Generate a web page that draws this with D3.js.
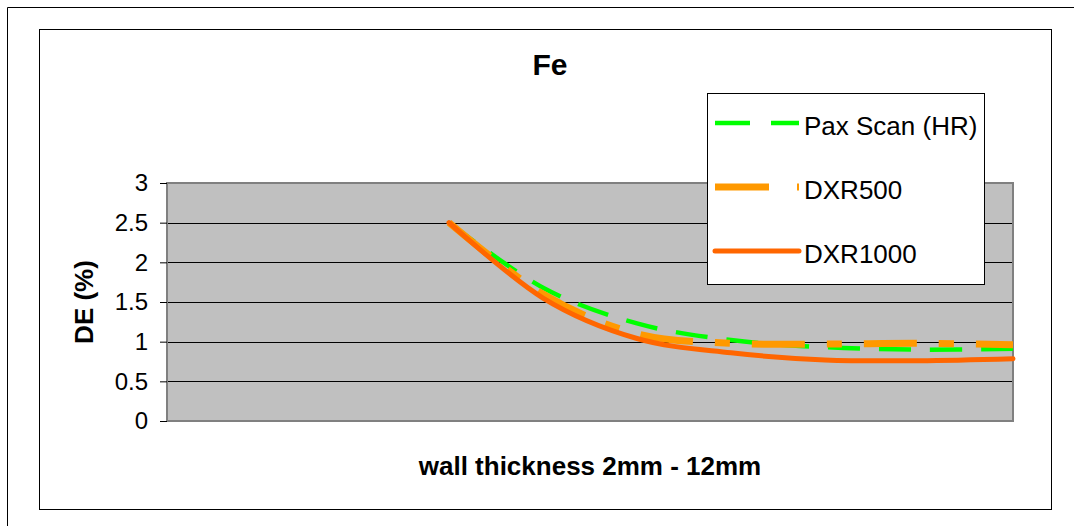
<!DOCTYPE html>
<html>
<head>
<meta charset="utf-8">
<script src="https://cdn.jsdelivr.net/npm/d3@7"></script>
<style>
  body { margin: 0; background: #fff; }
  text { font-family: "Liberation Sans", Arial, sans-serif; }
</style>
</head>
<body>
<div class="chart"></div>
<script>
var svgWidth = 1074;
var svgHeight = 526;

// positions along the wall thickness axis (no labels shown on the chart)
var xSteps = [3, 4, 5, 6, 7, 8, 9];
var xMax = 9;

var paxScan = [2.5, 1.68, 1.23, 1.02, 0.93, 0.9, 0.91];
var dxr500 = [2.5, 1.6, 1.1, 0.98, 0.97, 0.98, 0.96];
var dxr1000 = [2.5, 1.55, 1.04, 0.86, 0.77, 0.76, 0.785];

var yTicks = [0, 0.5, 1, 1.5, 2, 2.5, 3];
var seriesNames = ["Pax Scan (HR)", "DXR500", "DXR1000"];

var plot = { left: 167, top: 183, right: 1013, bottom: 421 };

var svg = d3.select(".chart")
  .append("svg")
  .attr("width", svgWidth)
  .attr("height", svgHeight);

// outer frame and chart area frame
svg.append("path")
  .attr("d", "M7.5,530 V7.5 H1080")
  .attr("fill", "none")
  .attr("stroke", "#000");

svg.append("rect")
  .attr("x", 39.5).attr("y", 29.5)
  .attr("width", 1012).attr("height", 480)
  .attr("fill", "#fff")
  .attr("stroke", "#000");

var xScale = d3.scaleLinear()
  .domain([0, xMax])
  .range([plot.left, plot.right]);

var yScale = d3.scaleLinear()
  .domain([0, 3])
  .range([plot.bottom, plot.top]);

svg.append("rect")
  .attr("x", plot.left).attr("y", plot.top)
  .attr("width", plot.right - plot.left)
  .attr("height", plot.bottom - plot.top)
  .attr("fill", "#c0c0c0");

// gridlines
svg.append("g")
  .selectAll("line")
  .data(yTicks.slice(1, -1))
  .enter()
  .append("line")
  .attr("x1", plot.left).attr("x2", plot.right)
  .attr("y1", d => Math.round(yScale(d)) + 0.5)
  .attr("y2", d => Math.round(yScale(d)) + 0.5)
  .attr("stroke", "#000");

svg.append("rect")
  .attr("x", plot.left).attr("y", plot.top)
  .attr("width", plot.right - plot.left)
  .attr("height", plot.bottom - plot.top)
  .attr("fill", "none")
  .attr("stroke", "#808080")
  .attr("stroke-width", 2);

var leftAxis = d3.axisLeft(yScale)
  .tickValues(yTicks)
  .tickSize(7)
  .tickPadding(12)
  .tickFormat(d3.format("~g"));

var yAxis = svg.append("g")
  .attr("transform", `translate(${plot.left}, 0)`)
  .call(leftAxis);

yAxis.select(".domain").remove();
yAxis.selectAll("line").attr("stroke", "#000");
yAxis.selectAll("text")
  .attr("font-size", 24)
  .attr("font-family", "Liberation Sans, Arial, sans-serif")
  .attr("fill", "#000");

var line = d3.line()
  .x((d, i) => xScale(xSteps[i]))
  .y(d => yScale(d))
  .curve(d3.curveCatmullRom.alpha(0));

var series = [
  { values: paxScan, color: "#00ff00", width: 4.5, dash: "32,19", legendDash: "35,21", cap: "butt" },
  { values: dxr500, color: "#ff9900", width: 7, dash: "53,22,15,22", legendDash: "54,28", cap: "butt" },
  { values: dxr1000, color: "#ff6600", width: 5, dash: null, legendDash: null, cap: "round" }
];

series.forEach(function(s) {
  svg.append("path")
    .datum(s.values)
    .attr("d", line)
    .attr("fill", "none")
    .attr("stroke", s.color)
    .attr("stroke-width", s.width)
    .attr("stroke-dasharray", s.dash)
    .attr("stroke-linecap", s.cap)
    .attr("stroke-linejoin", "round");
});

// title and axis titles
svg.append("text")
  .attr("x", 550).attr("y", 75)
  .attr("text-anchor", "middle")
  .attr("font-size", 30)
  .attr("font-weight", "bold")
  .text("Fe");

svg.append("text")
  .attr("transform", "translate(93, 302) rotate(-90)")
  .attr("text-anchor", "middle")
  .attr("font-size", 26)
  .attr("font-weight", "bold")
  .text("DE (%)");

svg.append("text")
  .attr("x", (plot.left + plot.right) / 2).attr("y", 475)
  .attr("text-anchor", "middle")
  .attr("font-size", 26)
  .attr("font-weight", "bold")
  .text("wall thickness 2mm - 12mm");

// legend
var legend = svg.append("g");

legend.append("rect")
  .attr("x", 707.5).attr("y", 93.5)
  .attr("width", 277).attr("height", 191)
  .attr("fill", "#fff")
  .attr("stroke", "#000");

var legendItems = legend.selectAll(".item")
  .data(series)
  .enter()
  .append("g")
  .attr("transform", (d, i) => `translate(0, ${123 + i * 64})`);

legendItems.append("line")
  .attr("x1", 715).attr("x2", 799)
  .attr("stroke", d => d.color)
  .attr("stroke-width", d => d.width)
  .attr("stroke-dasharray", d => d.legendDash)
  .attr("stroke-linecap", d => d.cap);

legendItems.append("text")
  .attr("x", 804)
  .attr("y", 12)
  .attr("font-size", 26)
  .text((d, i) => seriesNames[i]);
</script>
</body>
</html>
